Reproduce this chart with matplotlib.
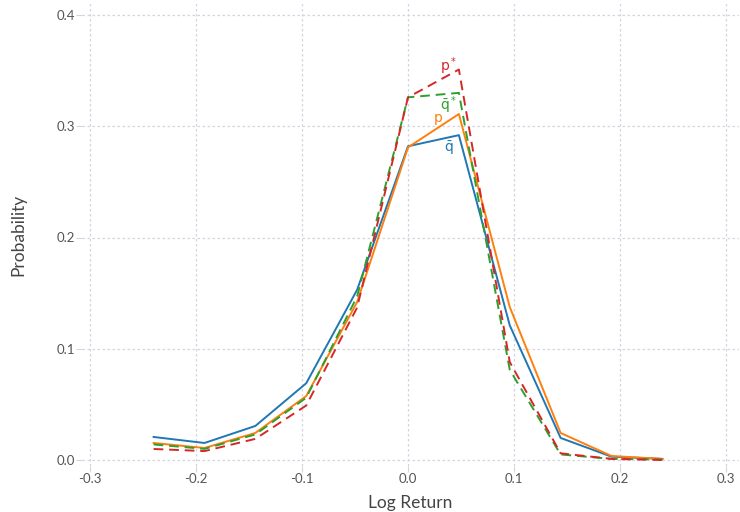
import matplotlib.pyplot as plt

# bin centres (log return) and probabilities
log_return = [-0.24, -0.192, -0.144, -0.096, -0.048, 0.0, 0.048, 0.096, 0.144, 0.192, 0.24]
q_bar = [0.0207, 0.0153, 0.0306, 0.069, 0.153, 0.282, 0.292, 0.121, 0.0198, 0.003, 0.001]
p = [0.0153, 0.0108, 0.0243, 0.0575, 0.142, 0.281, 0.311, 0.1375, 0.0243, 0.0036, 0.001]
q_bar_star = [0.0140, 0.0100, 0.0230, 0.056, 0.147, 0.326, 0.330, 0.081, 0.005, 0.001, 0.0005]
p_star = [0.0099, 0.0080, 0.0190, 0.049, 0.137, 0.326, 0.351, 0.088, 0.006, 0.001, 0.0]

labels = ['$\\bar{\\mathrm{q}}$', '$\\mathrm{p}$', '$\\bar{\\mathrm{q}}^*$', '$\\mathrm{p}^*$']
label_pos = [(0.0387, 0.280), (0.028, 0.306), (0.0387, 0.319), (0.0387, 0.354)]

plt.rcParams['font.family'] = ['Lato', 'DejaVu Sans']
plt.rcParams['mathtext.fontset'] = 'dejavusans'

fig = plt.figure(figsize=(7.4, 5.12), dpi=100)
ax = fig.add_axes([82 / 740, 1 - 466 / 512, 657 / 740, 463 / 512])

blue, orange, green, red = '#1f77b4', '#ff7f0e', '#2ca02c', '#d62728'

ax.plot(log_return, q_bar, color=blue, lw=1.4)
ax.plot(log_return, p, color=orange, lw=1.4)
ax.plot(log_return, q_bar_star, color=green, lw=1.4, dashes=(5, 3))
ax.plot(log_return, p_star, color=red, lw=1.4, dashes=(5, 3))

for txt, (x, y), c in zip(labels, label_pos, [blue, orange, green, red]):
    ax.text(x, y, txt, color=c, fontsize=10, ha='center', va='center')

# axes px: left 82 -> right 739, -0.3 at 90, 0.3 at 726
ax.set_xlim(-0.3 - 8 / 1060, 0.3 + 13 / 1060)
ax.set_ylim(-6 / 1112.5, 0.4 + 12 / 1112.5)
ax.set_xticks([-0.3, -0.2, -0.1, 0.0, 0.1, 0.2, 0.3])
ax.set_xticklabels(['-0.3', '-0.2', '-0.1', '0.0', '0.1', '0.2', '0.3'])
ax.set_yticks([0.0, 0.1, 0.2, 0.3, 0.4])
ax.set_yticklabels(['0.0', '0.1', '0.2', '0.3', '0.4'])

ax.grid(True, color='#d4d4e0', linestyle=(0, (2, 2)), lw=0.9)
ax.set_axisbelow(True)
for s in ax.spines.values():
    s.set_visible(False)
ax.tick_params(length=4, color='#d4d4e0', labelcolor='#555555', labelsize=9.5, pad=1)

ax.set_xlabel('Log Return', fontsize=12.5, color='#444444', labelpad=7)
ax.set_ylabel('Probability', fontsize=12.5, color='#444444', labelpad=22)

fig.savefig('out.png', dpi=100)
